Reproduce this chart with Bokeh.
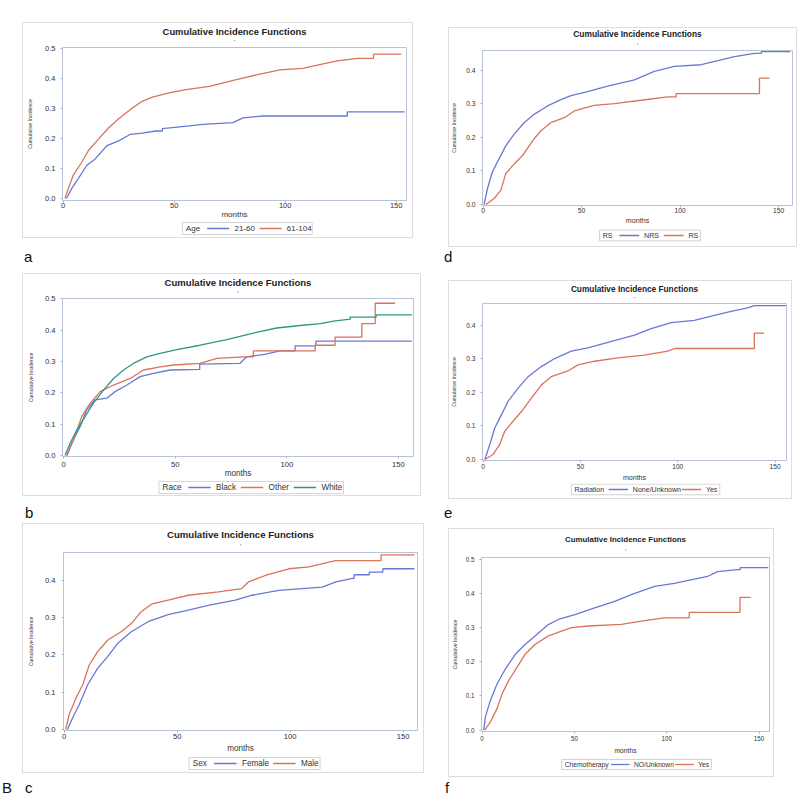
from bokeh.plotting import figure
from bokeh.models import Range1d, FixedTicker, PrintfTickFormatter, Div, Spacer, Title
from bokeh.core.properties import value
from bokeh.layouts import row, column
from bokeh.embed import file_html
from bokeh.resources import INLINE

FONT = "Liberation Sans"
BLUE = "#6a78d4"
ORANGE = "#d9735a"
TEAL = "#2e9688"

TITLE = "Cumulative Incidence Functions"
X_LABEL = "months"
Y_LABEL = "Cumulative Incidence"
X_TICKS = [0, 50, 100, 150]
Y_TICKS_05 = [0.0, 0.1, 0.2, 0.3, 0.4, 0.5]
Y_TICKS_04 = [0.0, 0.1, 0.2, 0.3, 0.4]

# ---- panel a : Age ----
a_var = "Age"
a_groups = ["21-60", "61-104"]
a_21_60_t = [1.5, 3.8, 6.8, 10.6, 14.4, 19.7, 25.0, 30.3, 35.6, 41.7, 44.7, 44.7, 56.8, 62.9, 76.5, 81.0, 90.0, 128.0, 128.0, 153.8]
a_21_60_y = [0.0, 0.033, 0.066, 0.110, 0.132, 0.176, 0.192, 0.214, 0.218, 0.225, 0.225, 0.233, 0.242, 0.247, 0.253, 0.269, 0.275, 0.275, 0.289, 0.289]
a_61_104_t = [0.8, 2.3, 4.5, 8.3, 11.4, 15.9, 20.5, 25.0, 30.3, 35.6, 40.2, 47.7, 55.3, 65.9, 78.0, 87.0, 97.7, 108.0, 116.0, 123.5, 132.6, 139.8, 139.8, 152.3]
a_61_104_y = [0.0, 0.033, 0.077, 0.120, 0.160, 0.198, 0.236, 0.266, 0.297, 0.324, 0.338, 0.352, 0.363, 0.374, 0.396, 0.412, 0.429, 0.434, 0.447, 0.459, 0.467, 0.467, 0.481, 0.481]

# ---- panel b : Race ----
b_var = "Race"
b_groups = ["Black", "Other", "White"]
b_black_t = [1.5, 3.7, 7.5, 10.4, 14.2, 19.4, 23.1, 28.4, 34.3, 40.3, 47.8, 61.0, 61.0, 79.0, 82.0, 90.0, 97.0, 103.7, 103.7, 113.0, 113.0, 156.0]
b_black_y = [0.0, 0.040, 0.093, 0.146, 0.178, 0.183, 0.204, 0.225, 0.252, 0.262, 0.273, 0.275, 0.292, 0.294, 0.315, 0.323, 0.334, 0.334, 0.350, 0.350, 0.365, 0.365]
b_other_t = [1.5, 4.5, 8.2, 12.0, 16.4, 22.4, 29.9, 35.8, 43.3, 49.3, 61.2, 68.7, 80.6, 85.0, 85.0, 112.7, 112.7, 121.6, 121.6, 133.6, 133.6, 139.6, 139.6, 148.5]
b_other_y = [0.0, 0.050, 0.125, 0.167, 0.204, 0.225, 0.246, 0.273, 0.283, 0.289, 0.294, 0.310, 0.315, 0.315, 0.334, 0.334, 0.352, 0.352, 0.378, 0.378, 0.421, 0.421, 0.486, 0.486]
b_white_t = [0.7, 3.0, 6.0, 9.7, 13.4, 17.9, 22.4, 26.9, 31.3, 37.3, 43.3, 50.7, 61.2, 73.1, 85.0, 95.5, 106.0, 115.0, 121.0, 128.4, 128.4, 140.0, 140.0, 156.0]
b_white_y = [0.0, 0.040, 0.082, 0.125, 0.167, 0.209, 0.246, 0.273, 0.294, 0.315, 0.326, 0.338, 0.352, 0.370, 0.391, 0.407, 0.415, 0.421, 0.429, 0.435, 0.442, 0.442, 0.449, 0.449]

# ---- panel c : Sex ----
c_var = "Sex"
c_groups = ["Female", "Male"]
c_female_t = [1.5, 3.7, 6.7, 10.4, 14.8, 19.3, 23.7, 29.7, 37.1, 46.0, 54.9, 63.8, 75.7, 83.1, 95.0, 105.3, 114.2, 120.2, 127.6, 128.3, 128.3, 135.0, 135.0, 141.0, 141.0, 155.0]
c_female_y = [0.0, 0.031, 0.067, 0.120, 0.164, 0.196, 0.231, 0.262, 0.289, 0.308, 0.320, 0.333, 0.347, 0.360, 0.373, 0.378, 0.382, 0.396, 0.405, 0.405, 0.415, 0.415, 0.422, 0.422, 0.431, 0.431]
c_male_t = [0.7, 2.2, 5.2, 8.2, 11.1, 14.8, 19.3, 25.2, 29.7, 34.1, 38.6, 46.0, 54.9, 68.2, 78.6, 81.6, 89.0, 99.4, 108.3, 117.2, 120.0, 140.2, 140.2, 155.0]
c_male_y = [0.0, 0.040, 0.084, 0.120, 0.173, 0.209, 0.240, 0.262, 0.284, 0.316, 0.336, 0.347, 0.360, 0.369, 0.378, 0.396, 0.413, 0.431, 0.436, 0.449, 0.453, 0.453, 0.468, 0.468]

# ---- panel d : RS ----
d_var = "RS"
d_groups = ["NRS", "RS"]
d_nrs_t = [0.5, 2.2, 4.7, 8.1, 11.5, 15.8, 20.8, 25.9, 32.7, 39.5, 44.6, 53.0, 63.2, 76.8, 86.9, 97.1, 110.7, 119.2, 127.6, 137.8, 141.2, 141.2, 156.0]
d_nrs_y = [0.0, 0.047, 0.097, 0.136, 0.175, 0.210, 0.244, 0.269, 0.294, 0.313, 0.325, 0.337, 0.353, 0.372, 0.397, 0.412, 0.417, 0.429, 0.441, 0.451, 0.451, 0.456, 0.456]
d_rs_t = [1.4, 5.6, 9.0, 11.5, 15.8, 20.0, 25.1, 29.3, 34.4, 41.2, 46.3, 56.4, 66.6, 80.2, 93.7, 98.0, 98.0, 140.3, 140.3, 145.4]
d_rs_y = [0.0, 0.018, 0.042, 0.092, 0.121, 0.146, 0.190, 0.220, 0.244, 0.259, 0.279, 0.296, 0.301, 0.311, 0.321, 0.321, 0.331, 0.331, 0.377, 0.377]

# ---- panel e : Radiation ----
e_var = "Radiation"
e_groups = ["None/Unknown", "Yes"]
e_none_t = [0.9, 3.4, 6.0, 9.4, 12.8, 17.9, 23.1, 29.9, 36.8, 45.3, 53.8, 64.1, 77.8, 86.3, 96.6, 108.5, 118.8, 127.4, 135.9, 139.3, 155.6]
e_none_y = [0.0, 0.044, 0.094, 0.133, 0.173, 0.212, 0.247, 0.277, 0.301, 0.323, 0.333, 0.349, 0.371, 0.390, 0.408, 0.415, 0.430, 0.442, 0.452, 0.459, 0.459]
e_yes_t = [0.9, 5.1, 8.5, 11.1, 15.4, 19.7, 24.8, 29.9, 35.0, 43.6, 48.7, 57.3, 69.2, 82.9, 94.9, 98.3, 139.3, 139.3, 144.4]
e_yes_y = [0.0, 0.015, 0.044, 0.084, 0.114, 0.143, 0.183, 0.222, 0.247, 0.264, 0.282, 0.293, 0.303, 0.311, 0.323, 0.331, 0.331, 0.377, 0.377]

# ---- panel f : Chemotherapy ----
f_var = "Chemotherapy"
f_groups = ["NO/Unknown", "Yes"]
f_no_t = [0.9, 1.8, 4.5, 8.1, 12.6, 18.0, 23.3, 28.7, 35.9, 41.3, 50.3, 61.0, 71.8, 80.8, 93.4, 104.1, 113.1, 122.1, 127.5, 138.2, 139.8, 139.8, 155.0]
f_no_y = [0.0, 0.039, 0.087, 0.135, 0.179, 0.222, 0.251, 0.276, 0.309, 0.324, 0.338, 0.358, 0.377, 0.397, 0.421, 0.430, 0.440, 0.450, 0.464, 0.470, 0.470, 0.476, 0.476]
f_yes_t = [1.4, 4.5, 8.1, 10.8, 14.4, 18.9, 23.3, 28.7, 35.9, 43.1, 48.5, 57.5, 75.4, 86.2, 98.7, 112.2, 112.2, 139.7, 139.7, 145.4]
f_yes_y = [0.0, 0.024, 0.063, 0.106, 0.145, 0.184, 0.222, 0.251, 0.276, 0.290, 0.300, 0.305, 0.310, 0.319, 0.329, 0.329, 0.345, 0.345, 0.389, 0.389]

# approximate advance widths (em) of the sans font, used to lay out legend rows
EM = {"A": .667, "B": .667, "C": .722, "F": .611, "M": .833, "N": .722, "O": .778,
      "R": .722, "S": .667, "U": .722, "W": .944, "Y": .667, "a": .556, "b": .556,
      "c": .5, "d": .556, "e": .556, "g": .556, "h": .556, "i": .222, "k": .5,
      "l": .222, "m": .833, "n": .556, "o": .556, "p": .556, "r": .333, "s": .5,
      "t": .278, "w": .722, "x": .5, "y": .5, "-": .333, "/": .278, " ": .278}


def text_w(s, size):
    return sum(EM.get(ch, .556) for ch in s) * size


def main_fig(W, H, borders, xr, yr, yticks, curves, k, tick_sd, xlab_sd,
             ytick_sd, ylab_sd, dot_sd):
    l, r, t, b = borders
    p = figure(width=W, height=H, x_range=Range1d(*xr), y_range=Range1d(*yr),
               output_backend="svg", toolbar_location=None, title=None,
               min_border_left=l, min_border_right=r,
               min_border_top=t, min_border_bottom=b)
    p.border_fill_alpha = 0
    p.background_fill_color = "white"
    p.outline_line_color = "#b9c3d8"
    p.outline_line_width = 1
    p.grid.visible = False

    # small mark under the title (nearest the frame), then the title itself
    p.add_layout(Title(text="'", align="center", vertical_align="top", standoff=dot_sd,
                       text_font=FONT, text_font_size="5px", text_color="#666666"), "above")
    p.add_layout(Title(text=TITLE, align="center", vertical_align="top", standoff=0,
                       text_font=FONT, text_font_size="%.2fpx" % (9.4 * k),
                       text_font_style="bold", text_color="#222222"), "above")

    p.xaxis.ticker = FixedTicker(ticks=X_TICKS)
    p.yaxis.ticker = FixedTicker(ticks=yticks)
    p.yaxis.formatter = PrintfTickFormatter(format="%.1f")
    for ax in (p.xaxis[0], p.yaxis[0]):
        ax.axis_line_color = None
        ax.major_tick_line_color = "#a9b3c6"
        ax.major_tick_out = 2
        ax.major_tick_in = 0
        ax.minor_tick_line_color = None
        ax.major_label_text_font = FONT
        ax.major_label_text_font_size = "%.2fpx" % (7.5 * k)
        ax.major_label_text_color = "#333333"
        ax.axis_label_text_font = FONT
        ax.axis_label_text_font_style = "normal"
        ax.axis_label_text_color = "#333333"
    p.xaxis.major_label_standoff = tick_sd
    p.yaxis.major_label_standoff = ytick_sd
    p.xaxis.axis_label = X_LABEL
    p.xaxis.axis_label_text_font_size = "%.2fpx" % (8 * k)
    p.xaxis.axis_label_standoff = xlab_sd
    p.yaxis.axis_label = Y_LABEL
    p.yaxis.axis_label_text_font_size = "5.2px"
    p.yaxis.axis_label_standoff = ylab_sd

    for tt, yy, col in curves:
        p.line(tt, yy, line_color=col, line_width=1.3)
    return p


def legend_fig(W, H, var, names, colors, cx, cy, k):
    fs = 8 * k
    pad, tgap, sw, sd, sp, bh = 4 * k, 10 * k, 25 * k, 6 * k, 8 * k, 1.5 * fs
    total = (2 * pad + text_w(var, fs) + tgap +
             sum(sw + sd + text_w(n, fs) for n in names) + sp * (len(names) - 1))
    x0 = cx - total / 2
    q = figure(width=W, height=H, x_range=Range1d(0, W), y_range=Range1d(H, 0),
               x_axis_type=None, y_axis_type=None, title=None,
               output_backend="svg", toolbar_location=None, min_border=0)
    q.outline_line_color = None
    q.background_fill_alpha = 0
    q.border_fill_alpha = 0
    q.quad(left=[x0], right=[x0 + total], top=[cy - bh / 2], bottom=[cy + bh / 2],
           fill_color="white", line_color="#d2d2d2", line_width=1)
    x = x0 + pad
    q.text(x=[x], y=[cy], text=[var], text_baseline="middle", text_align="left",
           text_font=value(FONT), text_font_size=value("%.2fpx" % fs), text_color="#333333")
    x += text_w(var, fs) + tgap
    sx0, sx1, lx = [], [], []
    for n in names:
        sx0.append(x)
        sx1.append(x + sw)
        lx.append(x + sw + sd)
        x += sw + sd + text_w(n, fs) + sp
    ys = [cy] * len(names)
    q.segment(x0=sx0, y0=ys, x1=sx1, y1=ys, line_color=colors, line_width=1.3)
    q.text(x=lx, y=ys, text=names, text_baseline="middle", text_align="left",
           text_font=value(FONT), text_font_size=value("%.2fpx" % fs), text_color="#333333")
    return q


def panel(box, split, frame, xs, ys, yticks, curves, var, leg_c, k, sd):
    bx0, by0, bx1, by1 = box
    fl, ft, fr, fb = frame
    W = bx1 - bx0
    ppm, x0 = xs
    y0, ppu = ys
    xr = (x0, x0 + (fr - fl) / ppm)
    yr = (y0, y0 + (fb - ft) / ppu)
    m = main_fig(W, split - by0, (fl - bx0, bx1 - fr, ft - by0, split - fb), xr, yr, yticks,
                 [(c[1], c[2], c[3]) for c in curves], k, *sd)
    lg = legend_fig(W, by1 - split, var, [c[0] for c in curves], [c[3] for c in curves],
                    leg_c[0] - bx0, leg_c[1] - split, k)
    return column(m, lg, spacing=0,
                  styles={"outline": "1px solid #e3dcdc", "outline-offset": "-1px"})


def make_label(W, H, parts, top):
    spans = "".join(
        '<span style="position:absolute;left:%dpx;top:0px">%s</span>' % (x, s)
        for s, x in parts)
    html = ('<div style="position:relative;top:%dpx;height:12px;'
            'font-family:\'Liberation Sans\',Arial,sans-serif;font-size:15px;'
            'line-height:12px;color:#111111">%s</div>' % (top, spans))
    return Div(text=html, width=W, height=H, margin=(0, 0, 0, 0))


def shifted(obj, dx, h):
    return row(Spacer(width=dx, height=h), obj, spacing=0)


# standoffs: x tick label, x axis label, y tick label, y axis label, title mark
pa = panel((22, 22, 413, 238), 221, (62, 47, 406, 202), (2.22, -0.3), (-0.0066, 304.0), Y_TICKS_05,
           [(a_groups[0], a_21_60_t, a_21_60_y, BLUE), (a_groups[1], a_61_104_t, a_61_104_y, ORANGE)],
           a_var, (232, 228), 1.0, (0, -1, 5, 9, 1))
pb = panel((22, 273, 421, 496), 480, (62, 298, 413, 457), (2.233, -0.45), (-0.003, 315.4), Y_TICKS_05,
           [(b_groups[0], b_black_t, b_black_y, BLUE), (b_groups[1], b_other_t, b_other_y, ORANGE),
            (b_groups[2], b_white_t, b_white_y, TEAL)],
           b_var, (236.5, 487), 1.02, (3, -1, 5, 8, 1))
pc = panel((22, 523, 424, 773), 755, (63, 552, 417, 731), (2.26, -0.3), (-0.0027, 375.0), Y_TICKS_04,
           [(c_groups[0], c_female_t, c_female_y, BLUE), (c_groups[1], c_male_t, c_male_y, ORANGE)],
           c_var, (239, 763), 1.02, (1, 2, 6, 8, 3))
pd_ = panel((448, 27, 797, 247), 227, (482, 50, 792, 207), (1.97, -0.3), (-0.003, 339.5), Y_TICKS_04,
            [(d_groups[0], d_nrs_t, d_nrs_y, BLUE), (d_groups[1], d_rs_t, d_rs_y, ORANGE)],
            d_var, (636.5, 235), 0.894, (0, 1, 5, 6, 2))
pe = panel((448, 280, 792, 499), 483, (482, 303, 786, 461), (1.947, -0.3), (-0.003, 337.5), Y_TICKS_04,
           [(e_groups[0], e_none_t, e_none_y, BLUE), (e_groups[1], e_yes_t, e_yes_y, ORANGE)],
           e_var, (632.5, 489), 0.883, (1, 2, 5, 6, 0))
pf = panel((448, 528, 774, 777), 756, (480, 557, 769, 733), (1.853, -0.3), (-0.004, 345.4), Y_TICKS_05,
           [(f_groups[0], f_no_t, f_no_y, BLUE), (f_groups[1], f_yes_t, f_yes_y, ORANGE)],
           f_var, (623.5, 764), 0.84, (2, 3, 5, 5, 4))

la = make_label(424, 35, [("a", 24)], 13)
lb = make_label(424, 27, [("b", 25)], 11)
lc = make_label(424, 23, [("B", 2), ("c", 25)], 9)
ld = make_label(373, 33, [("d", 20)], 4)
le = make_label(373, 29, [("e", 20)], 8)
lf = make_label(373, 19, [("f", 21)], 5)

left = column(Spacer(width=424, height=22), shifted(pa, 22, 216), la,
              shifted(pb, 22, 223), lb, shifted(pc, 22, 250), lc, spacing=0)
right = column(Spacer(width=373, height=27), shifted(pd_, 24, 220), ld,
               shifted(pe, 24, 219), le, shifted(pf, 24, 249), lf, spacing=0)
root = row(left, right, spacing=0)

open("out.html", "w").write(file_html(root, INLINE, title="Cumulative Incidence Functions"))
